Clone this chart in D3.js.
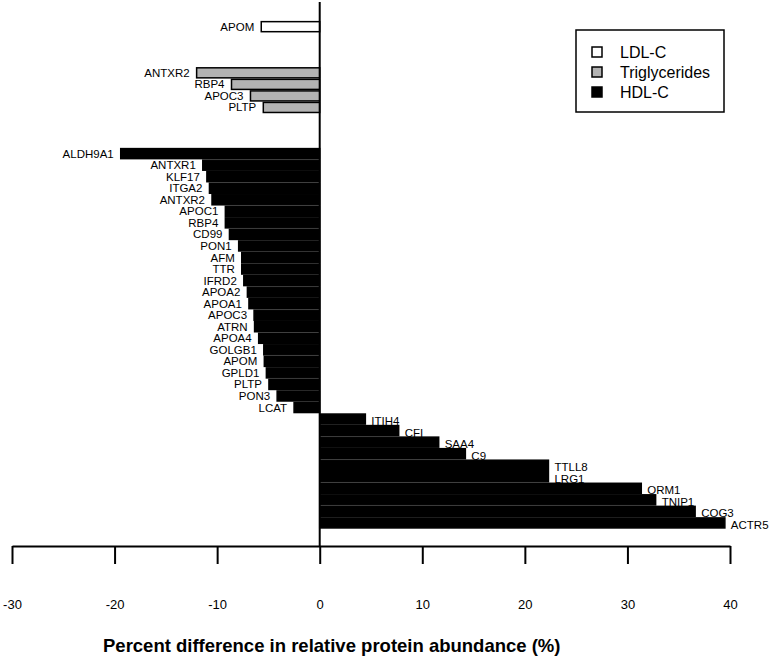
<!DOCTYPE html>
<html>
<head>
<meta charset="utf-8">
<script src="https://cdn.jsdelivr.net/npm/d3@7"></script>
<style>
  html, body { margin: 0; padding: 0; background: #fff; }
  svg { display: block; font-family: "Liberation Sans", Arial, sans-serif; }
</style>
</head>
<body>
<svg id="chart" width="771" height="658"></svg>
<script>
// ---- data ----
const seriesNames = ["LDL-C", "Triglycerides", "HDL-C"];
const seriesColors = ["#ffffff", "#b3b3b3", "#000000"];

const ldlLabels = ["APOM"];
const ldlValues = [-5.7];

const tgLabels = ["ANTXR2", "RBP4", "APOC3", "PLTP"];
const tgValues = [-12.0, -8.6, -6.75, -5.5];

const hdlLabels = ["ALDH9A1", "ANTXR1", "KLF17", "ITGA2", "ANTXR2", "APOC1", "RBP4", "CD99",
  "PON1", "AFM", "TTR", "IFRD2", "APOA2", "APOA1", "APOC3", "ATRN", "APOA4", "GOLGB1",
  "APOM", "GPLD1", "PLTP", "PON3", "LCAT",
  "ITIH4", "CFI", "SAA4", "C9", "TTLL8", "LRG1", "ORM1", "TNIP1", "COG3", "ACTR5"];
const hdlValues = [-19.4, -11.4, -11.0, -10.75, -10.5, -9.2, -9.2, -8.8,
  -7.9, -7.6, -7.6, -7.4, -7.05, -6.9, -6.4, -6.35, -5.95, -5.45,
  -5.4, -5.2, -4.95, -4.15, -2.5,
  4.45, 7.7, 11.6, 14.2, 22.3, 22.3, 31.35, 32.75, 36.6, 39.5];

const xTicks = [-30, -20, -10, 0, 10, 20, 30, 40];
const xTitle = "Percent difference in relative protein abundance (%)";

// ---- build rows (with empty gap slots between groups) ----
const groups = [
  { series: 0, labels: ldlLabels, values: ldlValues },
  { series: 1, labels: tgLabels, values: tgValues },
  { series: 2, labels: hdlLabels, values: hdlValues }
];
const GAP = 3;
const slots = [];
const rows = [];
groups.forEach((g, gi) => {
  if (gi > 0) for (let k = 0; k < GAP; k++) slots.push(`gap${gi}_${k}`);
  g.labels.forEach((lab, i) => {
    const key = `${gi}_${i}`;
    slots.push(key);
    rows.push({ key, label: lab, value: g.values[i], series: g.series });
  });
});

// ---- scales ----
const svg = d3.select("#chart");
const x = d3.scaleLinear().domain([-30, 40]).range([12, 730]);
const y = d3.scaleBand().domain(slots).range([20.9, 528.7]).paddingInner(0.13).paddingOuter(0.065);

// ---- bars ----
svg.append("g").selectAll("rect").data(rows).join("rect")
  .attr("x", d => Math.min(x(d.value), x(0)))
  .attr("y", d => y(d.key))
  .attr("width", d => Math.abs(x(d.value) - x(0)))
  .attr("height", y.bandwidth())
  .attr("fill", d => seriesColors[d.series])
  .attr("stroke", "#000")
  .attr("stroke-width", 1.5);

// ---- bar labels ----
svg.append("g").selectAll("text").data(rows).join("text")
  .attr("x", d => d.value < 0 ? x(d.value) - 7 : x(d.value) + 6)
  .attr("y", d => y(d.key) + y.bandwidth() / 2 + (d.value < 0 ? 0 : 2))
  .attr("dy", "0.35em")
  .attr("text-anchor", d => d.value < 0 ? "end" : "start")
  .attr("font-size", 11.5)
  .attr("fill", "#000")
  .text(d => d.label);

// ---- zero line ----
svg.append("line")
  .attr("x1", x(0)).attr("x2", x(0))
  .attr("y1", 2).attr("y2", 546)
  .attr("stroke", "#000").attr("stroke-width", 2);

// ---- x axis ----
const axis = d3.axisBottom(x).tickValues(xTicks).tickSize(18).tickSizeOuter(0).tickPadding(36)
  .tickFormat(d => String(d));
const ag = svg.append("g").attr("transform", "translate(0,546)").call(axis);
ag.select(".domain").attr("stroke", "#000").attr("stroke-width", 2);
ag.selectAll(".tick line").attr("stroke", "#000").attr("stroke-width", 2);
ag.selectAll(".tick text").attr("font-size", 13).attr("fill", "#000")
  .attr("font-family", "\"Liberation Sans\", Arial, sans-serif");

// ---- x title ----
svg.append("text")
  .attr("x", 103).attr("y", 652)
  .attr("font-size", 18.5).attr("font-weight", "bold")
  .attr("fill", "#000")
  .text(xTitle);

// ---- legend ----
const lg = svg.append("g");
lg.append("rect").attr("x", 576).attr("y", 30).attr("width", 148).attr("height", 82)
  .attr("fill", "#fff").attr("stroke", "#000").attr("stroke-width", 1.5);
const ly = d3.scalePoint().domain(seriesNames).range([52, 92]);
seriesNames.forEach((name, i) => {
  lg.append("rect").attr("x", 592).attr("y", ly(name) - 5).attr("width", 10).attr("height", 10)
    .attr("fill", seriesColors[i]).attr("stroke", "#000").attr("stroke-width", 1.5);
  lg.append("text").attr("x", 620).attr("y", ly(name)).attr("dy", "0.35em")
    .attr("font-size", 16).attr("fill", "#000").text(name);
});
</script>
</body>
</html>
